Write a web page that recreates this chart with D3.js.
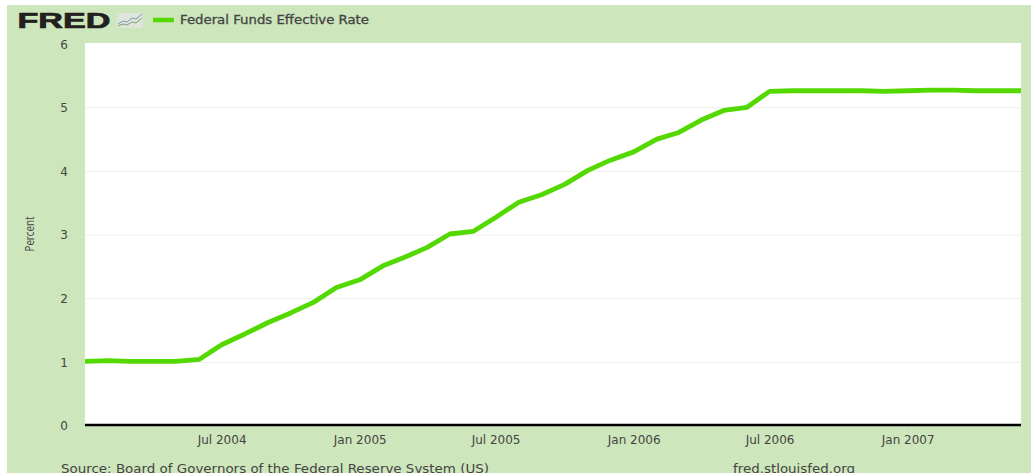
<!DOCTYPE html>
<html>
<head>
  <title>Federal Funds Effective Rate</title>
  <script src="https://d3js.org/d3.v7.min.js"></script>
  <style>
    html, body { margin: 0; padding: 0; background: #fff; overflow: hidden; }
    svg { display: block; }
    text { font-family: "DejaVu Sans", sans-serif; fill: #444; }
  </style>
</head>
<body>
  <script>
    // monthly values, Jan 2004 - Jun 2007
    var startYear = 2004;
    var rates = [
      1.00, 1.01, 1.00, 1.00, 1.00, 1.03, 1.26, 1.43, 1.61, 1.76, 1.93, 2.16,
      2.28, 2.50, 2.63, 2.79, 3.00, 3.04, 3.26, 3.50, 3.62, 3.78, 4.00, 4.16,
      4.29, 4.49, 4.59, 4.79, 4.94, 4.99, 5.24, 5.25, 5.25, 5.25, 5.25, 5.24,
      5.25, 5.26, 5.26, 5.25, 5.25, 5.25
    ];
    var yTicks = [0, 1, 2, 3, 4, 5, 6];
    var xTicks = [
      new Date(2004, 6, 1), new Date(2005, 0, 1), new Date(2005, 6, 1),
      new Date(2006, 0, 1), new Date(2006, 6, 1), new Date(2007, 0, 1)
    ];
    var seriesName = "Federal Funds Effective Rate";
    var yLabel = "Percent";
    var sourceText = "Source: Board of Governors of the Federal Reserve System (US)";
    var siteText = "fred.stlouisfed.org";

    var green = "#53d900";
    var panel = "#cde6bb";

    var width = 1031, height = 473;
    var margin = {top: 43, right: 10, bottom: 48, left: 85};

    var svg = d3.select("body").append("svg")
        .attr("width", width)
        .attr("height", height);

    svg.append("rect")
        .attr("x", 7).attr("y", 5)
        .attr("width", width - 7).attr("height", height - 5)
        .attr("fill", panel);

    var data = rates.map(function(v, i) {
      return {date: new Date(startYear, i, 1), value: v};
    });

    var x = d3.scaleTime()
        .domain(d3.extent(data, function(d) { return d.date; }))
        .range([margin.left, width - margin.right]);
    var y = d3.scaleLinear()
        .domain([0, 6])
        .range([height - margin.bottom, margin.top]);

    svg.append("rect")
        .attr("x", margin.left).attr("y", margin.top)
        .attr("width", width - margin.left - margin.right)
        .attr("height", height - margin.top - margin.bottom)
        .attr("fill", "#fff");

    // gridlines
    svg.append("g").selectAll("line")
        .data(yTicks.slice(1, -1))
        .enter().append("line")
        .attr("x1", margin.left).attr("x2", width - margin.right)
        .attr("y1", function(d) { return y(d) + 1; })
        .attr("y2", function(d) { return y(d) + 1; })
        .attr("stroke", "#efefef");

    // y axis labels
    var yAxis = svg.append("g")
        .attr("transform", "translate(" + margin.left + ",0)")
        .call(d3.axisLeft(y).tickValues(yTicks).tickFormat(d3.format("d")).tickSize(0).tickPadding(17));
    yAxis.select(".domain").remove();
    yAxis.selectAll("text")
        .style("font-size", "12px")
        .attr("dy", "0.32em")
        .attr("y", function(d) { return d === 6 ? 1.5 : 1; });

    // x axis
    var xAxis = svg.append("g")
        .attr("transform", "translate(0," + y(0) + ")")
        .call(d3.axisBottom(x).tickValues(xTicks).tickFormat(d3.timeFormat("%b %Y")).tickSize(9).tickPadding(1));
    xAxis.select(".domain").remove();
    xAxis.selectAll("line").attr("stroke", "#c9dcd0");
    xAxis.selectAll("text")
        .style("font-size", "12px");

    svg.append("line")
        .attr("x1", margin.left).attr("x2", width - margin.right)
        .attr("y1", y(0)).attr("y2", y(0))
        .attr("stroke", "#000").attr("stroke-width", 2.4);

    // series
    var line = d3.line()
        .x(function(d) { return x(d.date); })
        .y(function(d) { return y(d.value); });
    svg.append("path")
        .datum(data)
        .attr("fill", "none")
        .attr("stroke", green)
        .attr("stroke-width", 4.8)
        .attr("stroke-linejoin", "round")
        .attr("d", line);

    // header
    svg.append("text")
        .attr("x", 17.5).attr("y", 28)
        .attr("textLength", 93).attr("lengthAdjust", "spacingAndGlyphs")
        .style("font-family", "'Liberation Sans', sans-serif")
        .style("font-size", "21.5px").style("font-weight", "bold")
        .style("fill", "#231f20").style("stroke", "#231f20").style("stroke-width", 0.7)
        .text("FRED");

    var icon = svg.append("g").attr("transform", "translate(117,13)");
    icon.append("rect")
        .attr("width", 26).attr("height", 15).attr("rx", 2)
        .attr("fill", "#dfe5db");
    icon.append("path")
        .attr("d", "M1 11 L6 8 L10 9 L15 5 L19 6 L25 1")
        .attr("fill", "none").attr("stroke", "#6f9cb8").attr("stroke-width", 1);
    icon.append("path")
        .attr("d", "M1 13 L6 11 L10 12 L15 9 L19 10 L25 5")
        .attr("fill", "none").attr("stroke", "#7f9f70").attr("stroke-width", 1);

    svg.append("line")
        .attr("x1", 153).attr("x2", 174)
        .attr("y1", 20).attr("y2", 20)
        .attr("stroke", green).attr("stroke-width", 4.5);

    svg.append("text")
        .attr("x", 180).attr("y", 24)
        .attr("textLength", 189).attr("lengthAdjust", "spacingAndGlyphs")
        .style("font-size", "11.5px")
        .style("stroke", "#444").style("stroke-width", 0.3)
        .text(seriesName);

    // y label
    svg.append("text")
        .attr("transform", "translate(34,234) rotate(-90)")
        .attr("text-anchor", "middle")
        .attr("textLength", 35).attr("lengthAdjust", "spacingAndGlyphs")
        .style("font-family", "'Open Sans', sans-serif")
        .style("font-size", "13px")
        .text(yLabel);

    // footer
    svg.append("text")
        .attr("x", 61).attr("y", 472.5)
        .attr("textLength", 428).attr("lengthAdjust", "spacingAndGlyphs")
        .style("font-size", "11.5px")
        .text(sourceText);
    svg.append("text")
        .attr("x", 733).attr("y", 472.5)
        .attr("textLength", 122).attr("lengthAdjust", "spacingAndGlyphs")
        .style("font-size", "11.5px")
        .text(siteText);
  </script>
</body>
</html>
